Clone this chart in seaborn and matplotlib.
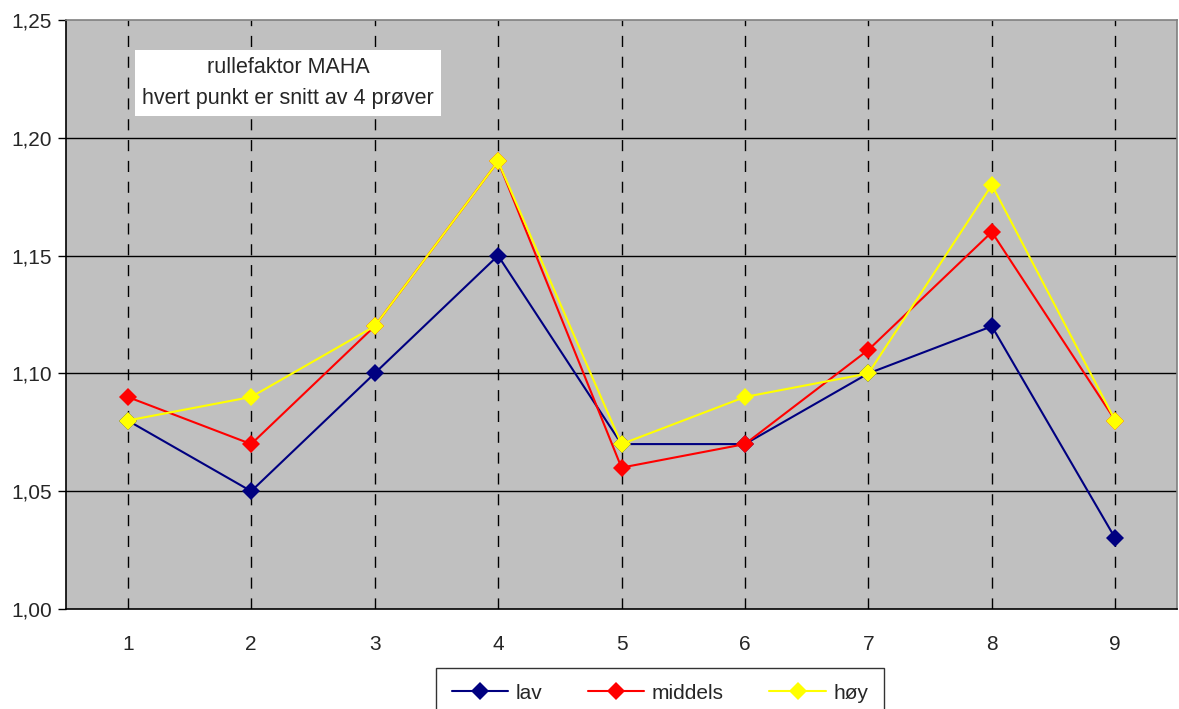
import matplotlib
matplotlib.use("Agg")
import matplotlib.pyplot as plt
from matplotlib.ticker import FuncFormatter, FixedLocator
import seaborn as sns
import pandas as pd

punkt = [1, 2, 3, 4, 5, 6, 7, 8, 9]
lav = [1.08, 1.05, 1.10, 1.15, 1.07, 1.07, 1.10, 1.12, 1.03]
middels = [1.09, 1.07, 1.12, 1.19, 1.06, 1.07, 1.11, 1.16, 1.08]
hoy = [1.08, 1.09, 1.12, 1.19, 1.07, 1.09, 1.10, 1.18, 1.08]
serier = ["lav", "middels", "høy"]
farger = ["#000080", "#FF0000", "#FFFF00"]
y_ticks = [1.00, 1.05, 1.10, 1.15, 1.20, 1.25]

df = pd.DataFrame({
    "punkt": punkt * 3,
    "verdi": lav + middels + hoy,
    "serie": [s for s in serier for _ in punkt],
})

sns.set_style("white")
plt.rcParams["font.family"] = ["Liberation Sans", "DejaVu Sans"]

fig = plt.figure(figsize=(11.79, 7.09), dpi=100)
ax = fig.add_axes([66 / 1179, 1 - 609 / 709, 1111 / 1179, 589 / 709])
ax.set_facecolor("#C0C0C0")

# grid: solid horizontal, dashed vertical
for y in y_ticks[1:-1]:
    ax.axhline(y, color="black", lw=1.0, zorder=1)
for x in punkt:
    ax.axvline(x, color="black", lw=1.0, ls=(0, (8, 7)), zorder=1)

sns.lineplot(
    data=df, x="punkt", y="verdi", hue="serie", hue_order=serier,
    palette=farger, marker="D", markersize=9, markeredgewidth=0,
    linewidth=1.5, ax=ax, legend=True, zorder=3,
)

ax.set_xlim(0.5, 9.5)
ax.set_ylim(1.00, 1.25)
ax.yaxis.set_major_locator(FixedLocator(y_ticks))
ax.yaxis.set_major_formatter(FuncFormatter(lambda v, p: f"{v:.2f}".replace(".", ",")))
ax.set_xticks(punkt)
ax.set_xticklabels([str(p) for p in punkt])
ax.tick_params(axis="y", length=6, width=1, color="black", labelsize=15, pad=4, left=True)
ax.tick_params(axis="x", length=0, labelsize=15, pad=19)
ax.set_xlabel("")
ax.set_ylabel("")

for side in ["left", "bottom"]:
    ax.spines[side].set_color("black")
    ax.spines[side].set_linewidth(1.2)
ax.spines["top"].set_color("#808080")
ax.spines["top"].set_linewidth(1.2)
ax.spines["right"].set_color("#808080")
ax.spines["right"].set_linewidth(1.2)

ax.text(
    (288 - 66) / 1111, 1 - (83 - 20) / 589,
    "rullefaktor MAHA\nhvert punkt er snitt av 4 prøver",
    transform=ax.transAxes, ha="center", va="center", fontsize=15.5,
    linespacing=1.6, zorder=5,
    bbox=dict(boxstyle="square,pad=0.35", facecolor="white", edgecolor="none"),
)

ax.get_legend().remove()
handles, labels = ax.get_legend_handles_labels()
leg = fig.legend(
    handles, labels, ncol=3, loc="upper center",
    bbox_to_anchor=(660 / 1179, 1 - 668 / 709), fontsize=15,
    frameon=True, fancybox=False, edgecolor="black", handlelength=2.7,
    columnspacing=2.2, borderpad=0.75, handletextpad=0.35, borderaxespad=0,
)
leg.get_frame().set_linewidth(1.0)

fig.savefig("out.png", dpi=100)
